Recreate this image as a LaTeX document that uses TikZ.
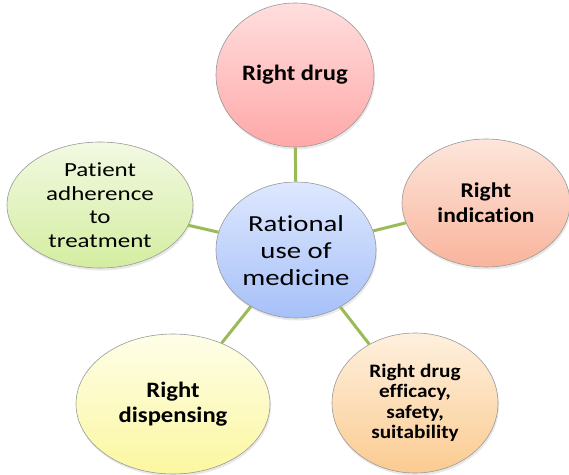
\documentclass[tikz,border=0pt]{standalone}
\usepackage{fontspec}
\setmainfont{Carlito}[Ligatures=NoCommon]
\newfontfamily\regwide{Carlito}[Ligatures=NoCommon, FakeStretch=1.25]
\newfontfamily\boldwide{Carlito Bold}[Ligatures=NoCommon, FakeStretch=1.12]
\usetikzlibrary{shapes.geometric,shadows}
\definecolor{conn}{HTML}{9BBB59}
\tikzset{
  bub/.style={ellipse, draw=gray!80, line width=0.6pt, inner sep=0pt, align=center, text=black,
    drop shadow={opacity=0.18, shadow xshift=1pt, shadow yshift=-2.5pt}},
  conn/.style={draw=conn, line width=3pt},
}
\begin{document}
\begin{tikzpicture}[x=1pt,y=1pt]
\useasboundingbox (0,0) rectangle (569,474);
% nodes
\node[bub, minimum width=160, minimum height=136, top color={rgb,255:red,222;green,232;blue,255}, bottom color={rgb,255:red,166;green,192;blue,248}, font=\regwide\fontsize{23}{27}\selectfont] (c) at (296,224) {\\[-10pt]Rational\\use of\\medicine};
\node[bub, minimum width=158, minimum height=144, top color={rgb,255:red,255;green,222;blue,222}, bottom color={rgb,255:red,255;green,168;blue,168}, font=\boldwide\fontsize{22}{25}\selectfont] (rd) at (295,399) {Right drug};
\node[bub, minimum width=168, minimum height=128, top color={rgb,255:red,253;green,230;blue,220}, bottom color={rgb,255:red,249;green,180;blue,156}, font=\boldwide\fontsize{21}{25}\selectfont] (ri) at (486,271) {Right\\indication};
\node[bub, minimum width=166, minimum height=140, top color={rgb,255:red,254;green,240;blue,222}, bottom color={rgb,255:red,251;green,203;blue,145}, font=\boldwide\fontsize{19}{20.5}\selectfont] (re) at (415,71) {Right drug\\efficacy,\\safety,\\suitability};
\node[bub, minimum width=186, minimum height=126, top color={rgb,255:red,242;green,249;blue,226}, bottom color={rgb,255:red,212;green,237;blue,160}, font=\regwide\fontsize{20}{23.5}\selectfont] (pa) at (100,269) {Patient\\adherence\\to\\treatment};
\node[bub, minimum width=194, minimum height=140, top color={rgb,255:red,254;green,254;blue,232}, bottom color={rgb,255:red,251;green,247;blue,160}, font=\boldwide\fontsize{22}{25}\selectfont] (rs) at (173,70) {Right\\dispensing};
% connectors
\draw[conn] (c) -- (rd);
\draw[conn] (c) -- (ri);
\draw[conn] (c) -- (re);
\draw[conn] (c) -- (pa);
\draw[conn] (c) -- (rs);
\end{tikzpicture}
\end{document}
